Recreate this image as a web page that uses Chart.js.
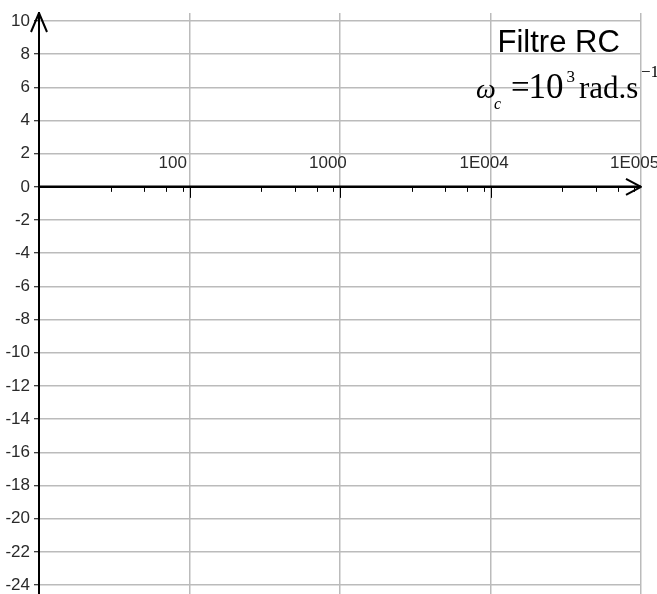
<!DOCTYPE html>
<html>
<head>
<meta charset="utf-8">
<title>Filtre RC</title>
<script src="https://cdn.jsdelivr.net/npm/chart.js@4/dist/chart.umd.min.js"></script>
<style>
  html, body { margin: 0; padding: 0; background: #fff; }
  #wrap { position: relative; width: 657px; height: 594px; }
</style>
</head>
<body>
<div id="wrap"><canvas id="bode"></canvas></div>
<script>
// Blank semi-log grid for the Bode gain plot of an RC filter (gain in dB vs pulsation)
const decades = [10, 100, 1000, 10000, 100000];
const decadeLabels = ['', '100', '1000', '1E004', '1E005'];
const minorMultipliers = [3, 5, 7, 9];
const gainTicks = [10, 8, 6, 4, 2, 0, -2, -4, -6, -8, -10, -12, -14, -16, -18, -20, -22, -24];
const titleText = 'Filtre RC';
const cutoffMantissa = '10';
const cutoffExponent = '3';

const SANS = "'Liberation Sans', Arial, sans-serif";
const SERIF = "'Liberation Serif', 'Times New Roman', serif";
const GRID = '#bbbbbb';
const LABEL_SIZE = 17;

Chart.defaults.font.family = SANS;

function line(ctx, x1, y1, x2, y2) {
  ctx.beginPath();
  ctx.moveTo(x1, y1);
  ctx.lineTo(x2, y2);
  ctx.stroke();
}

// Horizontal axis through 0 dB, arrows, ticks, decade labels and annotations
const axesOverlay = {
  id: 'axesOverlay',
  afterDraw(chart) {
    const { ctx, chartArea: a, scales: { x, y } } = chart;
    const y0 = y.getPixelForValue(0);
    const xEnd = x.getPixelForValue(decades[decades.length - 1]);
    ctx.save();
    ctx.strokeStyle = '#000';
    ctx.lineCap = 'butt';

    ctx.lineWidth = 2.5;
    line(ctx, a.left, y0, xEnd, y0);

    ctx.lineWidth = 1;
    for (let i = 0; i < decades.length - 1; i++) {
      for (const m of minorMultipliers) {
        const px = Math.round(x.getPixelForValue(decades[i] * m)) + 0.5;
        line(ctx, px, y0, px, y0 + 5);
      }
    }
    for (let i = 1; i < decades.length - 1; i++) {
      const px = Math.round(x.getPixelForValue(decades[i])) + 0.5;
      line(ctx, px, y0, px, y0 + 11);
    }

    // arrow heads
    ctx.lineWidth = 2;
    ctx.lineJoin = 'round';
    ctx.beginPath();
    ctx.moveTo(xEnd - 15, y0 - 8);
    ctx.lineTo(xEnd, y0);
    ctx.lineTo(xEnd - 15, y0 + 8);
    ctx.stroke();
    ctx.beginPath();
    ctx.moveTo(a.left - 8, a.top + 19);
    ctx.lineTo(a.left, a.top);
    ctx.lineTo(a.left + 8, a.top + 19);
    ctx.stroke();

    // decade labels sit above the axis, just left of their grid line
    ctx.fillStyle = '#2a2a2a';
    ctx.font = LABEL_SIZE + 'px ' + SANS;
    ctx.textAlign = 'left';
    ctx.textBaseline = 'alphabetic';
    decades.forEach((d, i) => {
      if (decadeLabels[i]) ctx.fillText(decadeLabels[i], x.getPixelForValue(d) - 31, y0 - 19);
    });

    // annotations
    ctx.fillStyle = '#000';
    ctx.font = '31px ' + SANS;
    ctx.fillText(titleText, 497.5, 52);

    ctx.font = 'italic 28px ' + SERIF;
    ctx.fillText('ω', 476, 97.5);
    ctx.font = 'italic 16px ' + SERIF;
    ctx.fillText('c', 494, 109);
    ctx.font = '33px ' + SERIF;
    ctx.fillText('=', 511, 97.5);
    ctx.font = '35px ' + SERIF;
    ctx.fillText(cutoffMantissa, 528.5, 97.5);
    ctx.font = '17px ' + SERIF;
    ctx.fillText(cutoffExponent, 566.5, 82);
    ctx.font = '31px ' + SERIF;
    ctx.fillText('rad.s', 579, 97.5);
    ctx.font = '17px ' + SERIF;
    ctx.fillText('−1', 641, 77);
    ctx.restore();
  }
};

new Chart(document.getElementById('bode'), {
  type: 'scatter',
  data: { datasets: [] },
  options: {
    responsive: true,
    maintainAspectRatio: false,
    animation: false,
    events: [],
    layout: { padding: { top: 13, right: 16, bottom: 0, left: 0 } },
    plugins: { legend: { display: false }, tooltip: { enabled: false } },
    scales: {
      x: {
        type: 'logarithmic',
        position: 'bottom',
        min: decades[0],
        max: decades[decades.length - 1],
        afterBuildTicks: (s) => { s.ticks = decades.map(v => ({ value: v })); },
        afterFit: (s) => { s.height = 0; s.paddingLeft = 0; s.paddingRight = 0; },
        ticks: { display: false },
        border: { display: false },
        grid: {
          drawTicks: false,
          lineWidth: 1.5,
          color: (c) => (c.tick && c.tick.value === decades[0]) ? 'rgba(0,0,0,0)' : GRID
        }
      },
      y: {
        type: 'linear',
        position: 'left',
        min: gainTicks[gainTicks.length - 1] - 0.54,
        max: gainTicks[0] + 0.48,
        afterBuildTicks: (s) => { s.ticks = gainTicks.slice().reverse().map(v => ({ value: v })); },
        afterFit: (s) => { s.width = 39; s.paddingTop = 0; s.paddingBottom = 0; },
        ticks: {
          color: '#2a2a2a',
          font: { size: LABEL_SIZE, family: SANS },
          padding: 4,
          callback: (v) => String(v)
        },
        border: { display: true, color: '#000', width: 2 },
        grid: {
          color: GRID,
          lineWidth: 1.5,
          tickLength: 5,
          tickColor: '#000',
          tickWidth: 1
        }
      }
    }
  },
  plugins: [axesOverlay]
});
</script>
</body>
</html>
